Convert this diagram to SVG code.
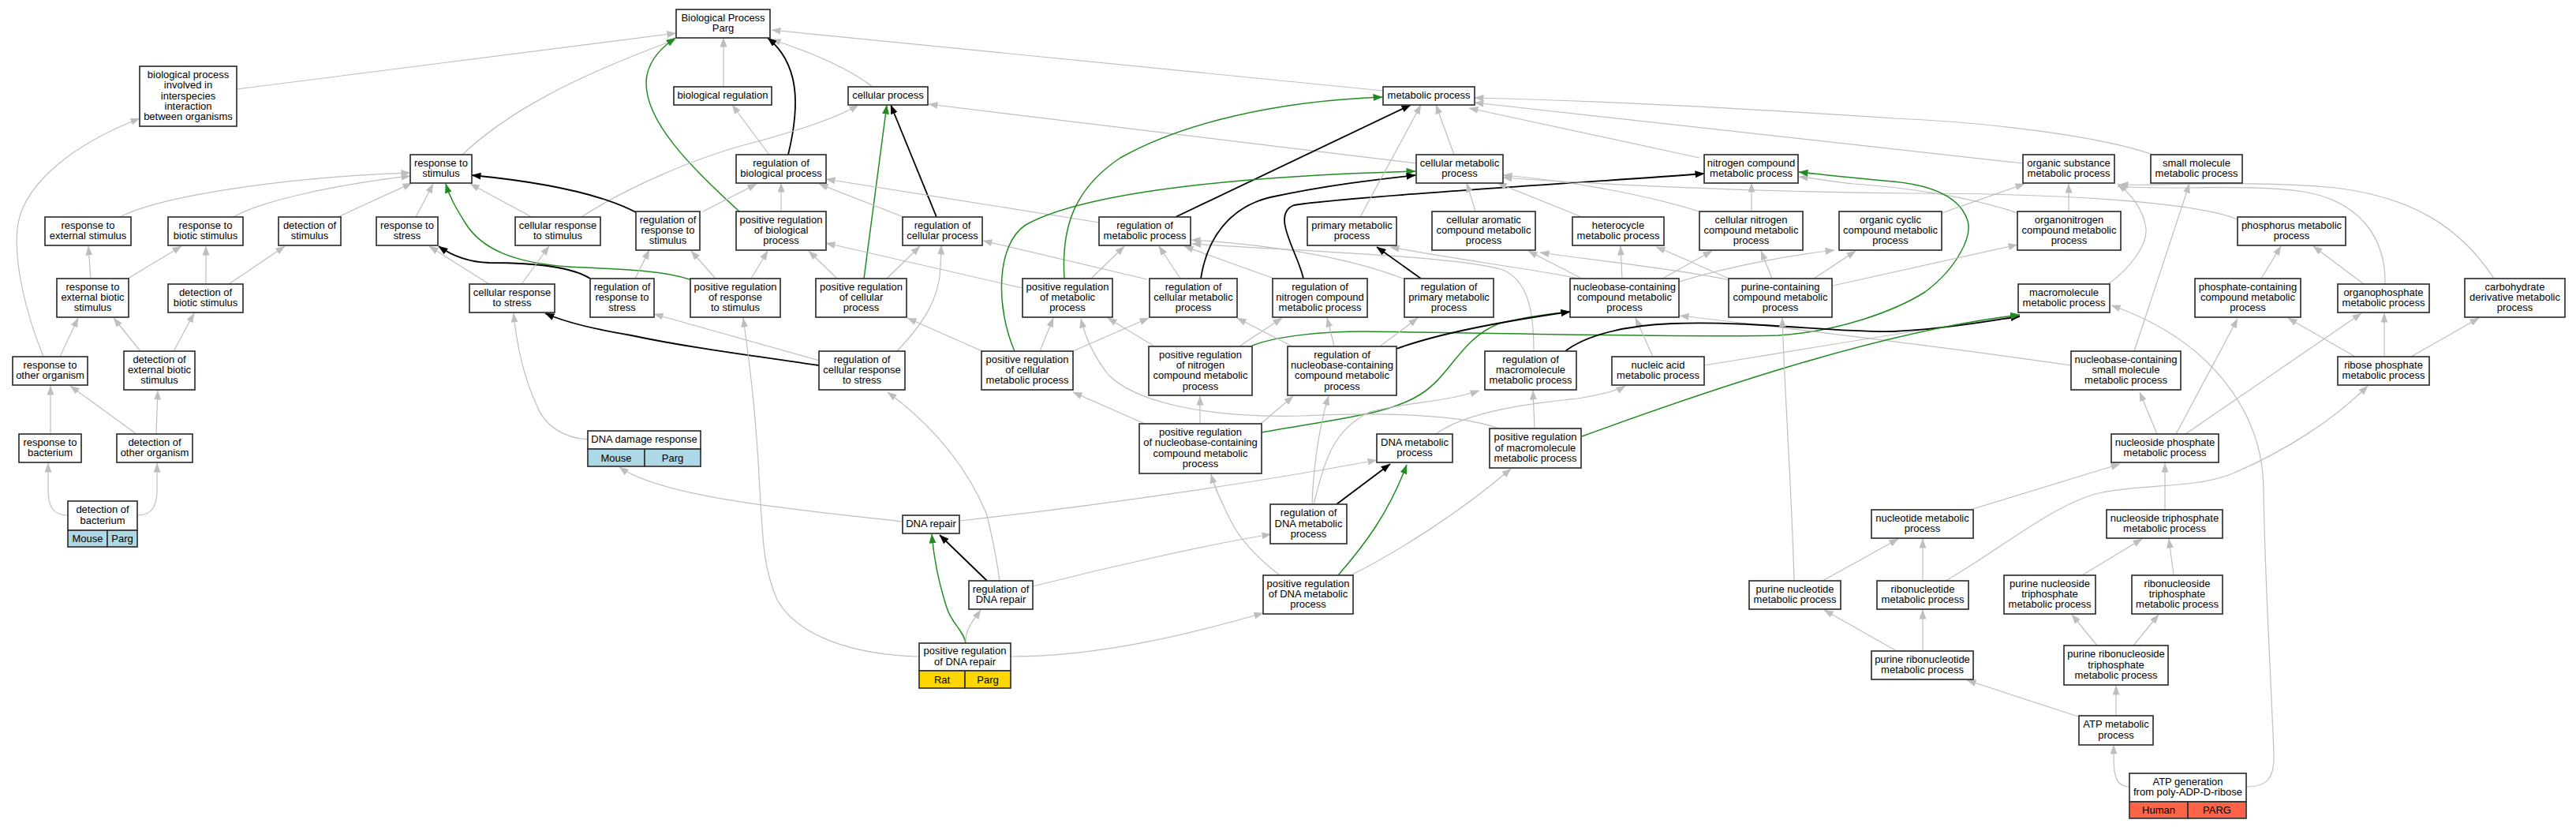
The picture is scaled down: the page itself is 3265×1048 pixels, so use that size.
<svg xmlns="http://www.w3.org/2000/svg" width="3265" height="1048" viewBox="0 0 3265 1048">
<style>
.node rect{fill:#fff;stroke:#333;stroke-width:1.7}
.node text{font-family:"Liberation Sans",Arial,sans-serif;font-size:13px;text-anchor:middle;fill:#000}
.g{fill:none;stroke:#bebebe;stroke-width:1.2;marker-end:url(#ag)}
.k{fill:none;stroke:#000;stroke-width:1.8;marker-end:url(#ak)}
.n{fill:none;stroke:#228b22;stroke-width:1.5;marker-end:url(#an)}
rect.blue{fill:#add8e6}
rect.gold{fill:#ffd700}
rect.tom{fill:#ff6347}
</style>
<defs>
<marker id="ag" viewBox="0 0 12 9" refX="11.5" refY="4.5" markerWidth="12" markerHeight="9" markerUnits="userSpaceOnUse" orient="auto"><path d="M0,0 L12,4.5 L0,9 z" fill="#bebebe"/></marker>
<marker id="ak" viewBox="0 0 12 9" refX="11.5" refY="4.5" markerWidth="12" markerHeight="9" markerUnits="userSpaceOnUse" orient="auto"><path d="M0,0 L12,4.5 L0,9 z" fill="#000"/></marker>
<marker id="an" viewBox="0 0 12 9" refX="11.5" refY="4.5" markerWidth="12" markerHeight="9" markerUnits="userSpaceOnUse" orient="auto"><path d="M0,0 L12,4.5 L0,9 z" fill="#228b22"/></marker>
</defs>
<rect x="0" y="0" width="3265" height="1048" fill="#fff"/>
<g id="edges">
<path class="g" d="M300,113 L857,42"/>
<path class="g" d="M586,196 C640,145 720,100 857,50"/>
<path class="g" d="M917,110 L917,48"/>
<path class="g" d="M1106,110 C1080,90 1040,70 978,50"/>
<path class="g" d="M1753,115 L978,38"/>
<path class="g" d="M975,196 L928,133"/>
<path class="k" d="M999,196 C1015,130 1012,80 973,48"/>
<path class="n" d="M937,268 C880,215 810,150 820,95 C825,72 842,58 856,48"/>
<path class="k" d="M1187,275 L1129,133"/>
<path class="n" d="M1095,353 L1124,133"/>
<path class="g" d="M737,275 C790,240 880,200 950,182 C1010,166 1060,150 1088,133"/>
<path class="g" d="M1795,207 L1177,132"/>
<path class="g" d="M891,268 L959,233"/>
<path class="g" d="M990,268 L990,232"/>
<path class="g" d="M1145,275 L1038,233"/>
<path class="g" d="M1393,282 L1047,227"/>
<path class="g" d="M152,275 C200,250 350,225 520,219"/>
<path class="g" d="M296,275 C330,255 420,235 520,223"/>
<path class="g" d="M428,275 L522,232"/>
<path class="g" d="M527,275 L549,233"/>
<path class="g" d="M674,275 L596,233"/>
<path class="k" d="M806,269 C760,245 680,230 598,222"/>
<path class="n" d="M874,354 C840,343 800,342 720,338 C650,333 610,315 590,283 C577,262 570,250 565,233"/>
<path class="k" d="M748,353 C720,335 660,333 620,333 C590,332 570,322 556,312"/>
<path class="g" d="M805,353 L823,317"/>
<path class="g" d="M620,360 L544,312"/>
<path class="g" d="M661,360 L696,312"/>
<path class="g" d="M115,353 L112,312"/>
<path class="g" d="M162,353 L230,312"/>
<path class="g" d="M261,360 L261,312"/>
<path class="g" d="M290,360 L361,312"/>
<path class="g" d="M76,452 L99,403"/>
<path class="g" d="M55,452 C30,390 18,330 22,290 C28,230 100,180 177,150"/>
<path class="g" d="M178,445 L144,403"/>
<path class="g" d="M220,445 L246,397"/>
<path class="g" d="M64,550 L64,489"/>
<path class="g" d="M173,550 L89,489"/>
<path class="g" d="M198,550 L200,495"/>
<path class="g" d="M86,653 C66,653 61,640 61,620 L61,587"/>
<path class="g" d="M174,653 C194,653 199,640 199,620 L199,587"/>
<path class="g" d="M745,557 C715,555 690,540 680,513 C665,480 655,440 651,397"/>
<path class="k" d="M1038,463 C950,450 870,440 800,425 C760,418 720,410 691,397"/>
<path class="g" d="M1039,457 L829,398"/>
<path class="g" d="M1137,445 C1170,410 1190,380 1192,340 L1193,311"/>
<path class="g" d="M907,353 L876,318"/>
<path class="g" d="M952,353 L973,318"/>
<path class="g" d="M1061,353 L1025,318"/>
<path class="g" d="M1124,353 L1166,312"/>
<path class="g" d="M1454,354 L1246,305"/>
<path class="k" d="M1490,275 L1788,133"/>
<path class="g" d="M1383,353 L1425,312"/>
<path class="g" d="M1496,353 L1469,312"/>
<path class="g" d="M1615,353 L1501,312"/>
<path class="g" d="M1781,354 Q1680,315 1510,304"/>
<path class="g" d="M1944,445 C1944,390 1935,355 1905,342 C1850,325 1650,318 1511,309"/>
<path class="n" d="M1349,353 C1345,290 1360,240 1420,200 C1500,155 1620,128 1752,123"/>
<path class="g" d="M1296,365 L1047,308"/>
<path class="n" d="M1286,445 C1262,390 1262,310 1300,285 C1380,240 1600,222 1794,217"/>
<path class="k" d="M1522,353 C1530,300 1560,262 1610,250 C1680,235 1740,228 1794,222"/>
<path class="k" d="M1652,353 C1645,320 1610,272 1640,260 C1700,250 2000,232 2160,220"/>
<path class="k" d="M1801,353 L1745,313"/>
<path class="g" d="M1843,196 L1820,133"/>
<path class="g" d="M1724,275 L1801,133"/>
<path class="g" d="M2154,200 L1862,137"/>
<path class="g" d="M2564,207 L1869,130"/>
<path class="g" d="M2729,196 C2660,172 2520,155 2400,150 C2250,140 2050,128 1869,124"/>
<path class="g" d="M1870,268 L1859,232"/>
<path class="g" d="M2005,275 L1898,232"/>
<path class="g" d="M2154,268 C2080,245 1980,228 1905,222"/>
<path class="g" d="M2836,278 C2780,255 2600,245 2420,245 C2200,243 2000,232 1905,225"/>
<path class="g" d="M2220,268 L2220,232"/>
<path class="g" d="M2557,270 C2500,250 2420,238 2350,233 C2320,230 2300,226 2280,224"/>
<path class="n" d="M1587,438 C1620,425 1680,420 1730,420 C1900,422 2150,428 2254,425 C2330,420 2400,395 2440,370 C2480,340 2500,300 2494,280 C2485,250 2450,235 2400,230 C2350,226 2300,220 2280,218"/>
<path class="g" d="M2461,270 L2566,233"/>
<path class="g" d="M2622,268 L2622,233"/>
<path class="g" d="M2672,360 C2700,340 2722,310 2720,290 C2717,265 2700,245 2684,233"/>
<path class="g" d="M3023,360 C3024,300 2990,255 2920,243 C2850,232 2750,242 2684,236"/>
<path class="g" d="M3161,353 C3120,290 3060,250 2960,238 C2850,228 2740,236 2686,234"/>
<path class="g" d="M2705,445 L2775,233"/>
<path class="g" d="M2866,353 L2891,312"/>
<path class="g" d="M2996,360 L2932,312"/>
<path class="g" d="M2005,353 L1937,318"/>
<path class="g" d="M2056,353 L2054,312"/>
<path class="g" d="M2107,353 L2170,318"/>
<path class="g" d="M2128,357 C2200,335 2280,322 2325,317"/>
<path class="g" d="M2005,354 C1960,343 1850,330 1762,313"/>
<path class="g" d="M2193,355 C2120,340 2020,330 1952,320"/>
<path class="g" d="M2192,353 C2160,340 2130,325 2099,313"/>
<path class="g" d="M2246,353 L2232,318"/>
<path class="g" d="M2299,353 L2352,318"/>
<path class="g" d="M2323,362 L2557,310"/>
<path class="g" d="M2095,452 L2073,403"/>
<path class="g" d="M2160,463 C2300,440 2450,415 2560,400"/>
<path class="g" d="M2625,463 C2500,445 2300,420 2129,400"/>
<path class="k" d="M1984,445 C2010,425 2060,412 2120,410 C2220,406 2330,422 2400,420 C2470,417 2530,405 2560,401"/>
<path class="n" d="M2005,553 C2150,500 2380,420 2560,399"/>
<path class="n" d="M1599,548 C1700,530 1760,525 1800,500 C1840,475 1850,430 1900,410 C1940,400 1970,397 1990,395"/>
<path class="k" d="M1770,442 C1830,420 1920,405 1990,395"/>
<path class="g" d="M1636,438 L1568,403"/>
<path class="g" d="M1572,438 L1625,403"/>
<path class="g" d="M1691,438 L1682,403"/>
<path class="g" d="M1750,438 L1797,403"/>
<path class="g" d="M1598,537 L1639,502"/>
<path class="g" d="M1663,639 C1665,580 1675,530 1684,502"/>
<path class="g" d="M1665,639 C1680,580 1690,545 1736,522 C1780,510 1830,510 1875,495"/>
<path class="g" d="M1945,543 L1943,495"/>
<path class="g" d="M1820,550 C1860,520 1950,510 2000,505 C2030,500 2050,495 2060,489"/>
<path class="g" d="M1216,660 C1400,640 1600,610 1745,583"/>
<path class="k" d="M1694,639 L1762,588"/>
<path class="n" d="M1696,729 C1730,690 1760,650 1783,589"/>
<path class="g" d="M1712,729 C1770,700 1850,650 1915,594"/>
<path class="g" d="M1900,543 C1850,525 1760,522 1650,527 C1530,530 1440,510 1405,475 C1385,450 1375,425 1370,404"/>
<path class="g" d="M1462,438 L1404,403"/>
<path class="g" d="M1318,445 L1335,403"/>
<path class="g" d="M1245,445 L1150,403"/>
<path class="g" d="M1360,445 L1456,403"/>
<path class="g" d="M1451,537 L1360,497"/>
<path class="g" d="M1521,537 L1521,502"/>
<path class="g" d="M1622,729 C1600,712 1575,690 1560,660 C1550,640 1540,620 1535,601"/>
<path class="g" d="M1309,743 C1400,720 1530,690 1611,677"/>
<path class="g" d="M1267,736 C1262,700 1258,680 1250,650 C1220,580 1170,530 1125,497"/>
<path class="k" d="M1251,736 L1191,678"/>
<path class="n" d="M1224,815 C1222,800 1206,790 1200,770 C1190,740 1184,710 1181,677"/>
<path class="g" d="M1224,813 C1224,795 1235,785 1243,773"/>
<path class="g" d="M1281,832 C1400,832 1520,800 1601,777"/>
<path class="g" d="M1165,832 C1080,830 1010,805 985,760 C968,720 967,690 963,620 C958,520 950,460 942,403"/>
<path class="g" d="M1144,661 C1000,645 840,630 785,592"/>
<path class="g" d="M2734,550 L2712,497"/>
<path class="g" d="M2758,550 L2836,404"/>
<path class="g" d="M2770,550 L2993,397"/>
<path class="g" d="M2985,452 L2900,403"/>
<path class="g" d="M3022,452 L3022,397"/>
<path class="g" d="M3056,452 L3142,403"/>
<path class="g" d="M2497,646 L2687,588"/>
<path class="g" d="M2744,646 L2744,587"/>
<path class="g" d="M2466,736 C2530,700 2600,640 2660,625 C2720,612 2780,620 2830,600 C2900,570 2960,530 3001,489"/>
<path class="g" d="M2310,736 L2406,683"/>
<path class="g" d="M2274,736 C2270,600 2262,500 2259,403"/>
<path class="g" d="M2437,736 L2437,683"/>
<path class="g" d="M2639,729 L2715,683"/>
<path class="g" d="M2755,729 L2749,683"/>
<path class="g" d="M2404,825 L2312,773"/>
<path class="g" d="M2437,825 L2437,773"/>
<path class="g" d="M2658,818 L2626,779"/>
<path class="g" d="M2704,818 L2736,779"/>
<path class="g" d="M2634,908 L2493,862"/>
<path class="g" d="M2682,907 L2682,869"/>
<path class="g" d="M2699,997 C2683,997 2679,985 2679,960 L2679,944"/>
<path class="g" d="M2847,997 C2875,997 2883,985 2882,955 C2878,850 2870,720 2869,620 C2868,520 2800,430 2676,387"/>
</g>
<g id="n-BP" class="node"><rect x="857" y="12" width="119" height="36"/><text x="916.5" y="26.9">Biological Process</text><text x="916.5" y="40.2">Parg</text></g>
<g id="n-BR" class="node"><rect x="854" y="110" width="124" height="23"/><text x="916" y="125">biological regulation</text></g>
<g id="n-CP" class="node"><rect x="1075" y="110" width="101" height="23"/><text x="1125.5" y="125">cellular process</text></g>
<g id="n-MP" class="node"><rect x="1753" y="110" width="116" height="23"/><text x="1811" y="125">metabolic process</text></g>
<g id="n-INT" class="node"><rect x="177" y="84" width="123" height="76"/><text x="238.5" y="98.9">biological process</text><text x="238.5" y="112.2">involved in</text><text x="238.5" y="125.5">interspecies</text><text x="238.5" y="138.8">interaction</text><text x="238.5" y="152.1">between organisms</text></g>
<g id="n-RS" class="node"><rect x="520" y="196" width="78" height="36"/><text x="559" y="210.9">response to</text><text x="559" y="224.2">stimulus</text></g>
<g id="n-RBP" class="node"><rect x="933" y="196" width="114" height="36"/><text x="990" y="210.9">regulation of</text><text x="990" y="224.2">biological process</text></g>
<g id="n-CMP" class="node"><rect x="1795" y="196" width="110" height="36"/><text x="1850" y="210.9">cellular metabolic</text><text x="1850" y="224.2">process</text></g>
<g id="n-NCMP" class="node"><rect x="2160" y="196" width="119" height="36"/><text x="2219.5" y="210.9">nitrogen compound</text><text x="2219.5" y="224.2">metabolic process</text></g>
<g id="n-OSMP" class="node"><rect x="2564" y="196" width="116" height="36"/><text x="2622" y="210.9">organic substance</text><text x="2622" y="224.2">metabolic process</text></g>
<g id="n-SMMP" class="node"><rect x="2726" y="196" width="116" height="36"/><text x="2784" y="210.9">small molecule</text><text x="2784" y="224.2">metabolic process</text></g>
<g id="n-RES" class="node"><rect x="57" y="275" width="109" height="36"/><text x="111.5" y="289.9">response to</text><text x="111.5" y="303.2">external stimulus</text></g>
<g id="n-RBS" class="node"><rect x="213" y="275" width="95" height="36"/><text x="260.5" y="289.9">response to</text><text x="260.5" y="303.2">biotic stimulus</text></g>
<g id="n-DS" class="node"><rect x="353" y="275" width="79" height="36"/><text x="392.5" y="289.9">detection of</text><text x="392.5" y="303.2">stimulus</text></g>
<g id="n-RSTR" class="node"><rect x="477" y="275" width="78" height="36"/><text x="516" y="289.9">response to</text><text x="516" y="303.2">stress</text></g>
<g id="n-CRS" class="node"><rect x="653" y="275" width="108" height="36"/><text x="707" y="289.9">cellular response</text><text x="707" y="303.2">to stimulus</text></g>
<g id="n-RRS" class="node"><rect x="806" y="268" width="81" height="49"/><text x="846.5" y="282.7">regulation of</text><text x="846.5" y="296">response to</text><text x="846.5" y="309.3">stimulus</text></g>
<g id="n-PRBP" class="node"><rect x="933" y="268" width="114" height="49"/><text x="990" y="282.7">positive regulation</text><text x="990" y="296">of biological</text><text x="990" y="309.3">process</text></g>
<g id="n-RCP" class="node"><rect x="1144" y="275" width="101" height="36"/><text x="1194.5" y="289.9">regulation of</text><text x="1194.5" y="303.2">cellular process</text></g>
<g id="n-RMP" class="node"><rect x="1393" y="275" width="116" height="36"/><text x="1451" y="289.9">regulation of</text><text x="1451" y="303.2">metabolic process</text></g>
<g id="n-PMP" class="node"><rect x="1657" y="275" width="113" height="36"/><text x="1713.5" y="289.9">primary metabolic</text><text x="1713.5" y="303.2">process</text></g>
<g id="n-CACMP" class="node"><rect x="1815" y="268" width="131" height="49"/><text x="1880.5" y="282.7">cellular aromatic</text><text x="1880.5" y="296">compound metabolic</text><text x="1880.5" y="309.3">process</text></g>
<g id="n-HMP" class="node"><rect x="1993" y="275" width="116" height="36"/><text x="2051" y="289.9">heterocycle</text><text x="2051" y="303.2">metabolic process</text></g>
<g id="n-CNCMP" class="node"><rect x="2154" y="268" width="131" height="49"/><text x="2219.5" y="282.7">cellular nitrogen</text><text x="2219.5" y="296">compound metabolic</text><text x="2219.5" y="309.3">process</text></g>
<g id="n-OCCMP" class="node"><rect x="2331" y="268" width="130" height="49"/><text x="2396" y="282.7">organic cyclic</text><text x="2396" y="296">compound metabolic</text><text x="2396" y="309.3">process</text></g>
<g id="n-ONCMP" class="node"><rect x="2557" y="268" width="131" height="49"/><text x="2622.5" y="282.7">organonitrogen</text><text x="2622.5" y="296">compound metabolic</text><text x="2622.5" y="309.3">process</text></g>
<g id="n-PHMP" class="node"><rect x="2836" y="275" width="137" height="36"/><text x="2904.5" y="289.9">phosphorus metabolic</text><text x="2904.5" y="303.2">process</text></g>
<g id="n-REBS" class="node"><rect x="72" y="353" width="91" height="49"/><text x="117.5" y="367.7">response to</text><text x="117.5" y="381">external biotic</text><text x="117.5" y="394.3">stimulus</text></g>
<g id="n-DBS" class="node"><rect x="213" y="360" width="95" height="36"/><text x="260.5" y="374.9">detection of</text><text x="260.5" y="388.2">biotic stimulus</text></g>
<g id="n-CRSTR" class="node"><rect x="595" y="360" width="108" height="36"/><text x="649" y="374.9">cellular response</text><text x="649" y="388.2">to stress</text></g>
<g id="n-RRSTR" class="node"><rect x="748" y="353" width="81" height="49"/><text x="788.5" y="367.7">regulation of</text><text x="788.5" y="381">response to</text><text x="788.5" y="394.3">stress</text></g>
<g id="n-PRRS" class="node"><rect x="875" y="353" width="114" height="49"/><text x="932" y="367.7">positive regulation</text><text x="932" y="381">of response</text><text x="932" y="394.3">to stimulus</text></g>
<g id="n-PRCP" class="node"><rect x="1034" y="353" width="115" height="49"/><text x="1091.5" y="367.7">positive regulation</text><text x="1091.5" y="381">of cellular</text><text x="1091.5" y="394.3">process</text></g>
<g id="n-PRMP" class="node"><rect x="1296" y="353" width="114" height="49"/><text x="1353" y="367.7">positive regulation</text><text x="1353" y="381">of metabolic</text><text x="1353" y="394.3">process</text></g>
<g id="n-RCMP" class="node"><rect x="1457" y="353" width="111" height="49"/><text x="1512.5" y="367.7">regulation of</text><text x="1512.5" y="381">cellular metabolic</text><text x="1512.5" y="394.3">process</text></g>
<g id="n-RNCMP" class="node"><rect x="1613" y="353" width="120" height="49"/><text x="1673" y="367.7">regulation of</text><text x="1673" y="381">nitrogen compound</text><text x="1673" y="394.3">metabolic process</text></g>
<g id="n-RPMP" class="node"><rect x="1780" y="353" width="113" height="49"/><text x="1836.5" y="367.7">regulation of</text><text x="1836.5" y="381">primary metabolic</text><text x="1836.5" y="394.3">process</text></g>
<g id="n-NBCMP" class="node"><rect x="1990" y="353" width="138" height="49"/><text x="2059" y="367.7">nucleobase-containing</text><text x="2059" y="381">compound metabolic</text><text x="2059" y="394.3">process</text></g>
<g id="n-PCCMP" class="node"><rect x="2191" y="353" width="131" height="49"/><text x="2256.5" y="367.7">purine-containing</text><text x="2256.5" y="381">compound metabolic</text><text x="2256.5" y="394.3">process</text></g>
<g id="n-MMP" class="node"><rect x="2558" y="360" width="116" height="36"/><text x="2616" y="374.9">macromolecule</text><text x="2616" y="388.2">metabolic process</text></g>
<g id="n-PHCMP" class="node"><rect x="2782" y="353" width="134" height="49"/><text x="2849" y="367.7">phosphate-containing</text><text x="2849" y="381">compound metabolic</text><text x="2849" y="394.3">process</text></g>
<g id="n-OPMP" class="node"><rect x="2963" y="360" width="116" height="36"/><text x="3021" y="374.9">organophosphate</text><text x="3021" y="388.2">metabolic process</text></g>
<g id="n-CDMP" class="node"><rect x="3124" y="353" width="127" height="49"/><text x="3187.5" y="367.7">carbohydrate</text><text x="3187.5" y="381">derivative metabolic</text><text x="3187.5" y="394.3">process</text></g>
<g id="n-ROO" class="node"><rect x="16" y="452" width="95" height="36"/><text x="63.5" y="466.9">response to</text><text x="63.5" y="480.2">other organism</text></g>
<g id="n-DEBS" class="node"><rect x="157" y="445" width="90" height="49"/><text x="202" y="459.7">detection of</text><text x="202" y="473">external biotic</text><text x="202" y="486.3">stimulus</text></g>
<g id="n-RCRS" class="node"><rect x="1038" y="445" width="109" height="49"/><text x="1092.5" y="459.7">regulation of</text><text x="1092.5" y="473">cellular response</text><text x="1092.5" y="486.3">to stress</text></g>
<g id="n-PRCMP" class="node"><rect x="1244" y="445" width="116" height="49"/><text x="1302" y="459.7">positive regulation</text><text x="1302" y="473">of cellular</text><text x="1302" y="486.3">metabolic process</text></g>
<g id="n-PRNCMP" class="node"><rect x="1456" y="439" width="131" height="62"/><text x="1521.5" y="453.6">positive regulation</text><text x="1521.5" y="466.9">of nitrogen</text><text x="1521.5" y="480.2">compound metabolic</text><text x="1521.5" y="493.5">process</text></g>
<g id="n-RNBCMP" class="node"><rect x="1632" y="439" width="138" height="62"/><text x="1701" y="453.6">regulation of</text><text x="1701" y="466.9">nucleobase-containing</text><text x="1701" y="480.2">compound metabolic</text><text x="1701" y="493.5">process</text></g>
<g id="n-RMMP" class="node"><rect x="1882" y="445" width="116" height="49"/><text x="1940" y="459.7">regulation of</text><text x="1940" y="473">macromolecule</text><text x="1940" y="486.3">metabolic process</text></g>
<g id="n-NAMP" class="node"><rect x="2043" y="452" width="117" height="36"/><text x="2101.5" y="466.9">nucleic acid</text><text x="2101.5" y="480.2">metabolic process</text></g>
<g id="n-NBSMMP" class="node"><rect x="2625" y="445" width="139" height="49"/><text x="2694.5" y="459.7">nucleobase-containing</text><text x="2694.5" y="473">small molecule</text><text x="2694.5" y="486.3">metabolic process</text></g>
<g id="n-RPHMP" class="node"><rect x="2963" y="452" width="116" height="36"/><text x="3021" y="466.9">ribose phosphate</text><text x="3021" y="480.2">metabolic process</text></g>
<g id="n-PRNBCMP" class="node"><rect x="1444" y="537" width="155" height="63"/><text x="1521.5" y="552.1">positive regulation</text><text x="1521.5" y="565.4">of nucleobase-containing</text><text x="1521.5" y="578.7">compound metabolic</text><text x="1521.5" y="592">process</text></g>
<g id="n-DDR" class="node"><rect x="745" y="546" width="143" height="23"/><rect class="blue" x="745" y="569" width="72" height="22"/><rect class="blue" x="817" y="569" width="71" height="22"/><text x="816.5" y="561">DNA damage response</text><text x="781" y="584.5">Mouse</text><text x="852.5" y="584.5">Parg</text></g>
<g id="n-RB" class="node"><rect x="24" y="550" width="79" height="36"/><text x="63.5" y="564.9">response to</text><text x="63.5" y="578.2">bacterium</text></g>
<g id="n-DOO" class="node"><rect x="148" y="550" width="96" height="36"/><text x="196" y="564.9">detection of</text><text x="196" y="578.2">other organism</text></g>
<g id="n-DMP" class="node"><rect x="1745" y="550" width="96" height="36"/><text x="1793" y="564.9">DNA metabolic</text><text x="1793" y="578.2">process</text></g>
<g id="n-PRMMP" class="node"><rect x="1888" y="543" width="116" height="50"/><text x="1946" y="558.2">positive regulation</text><text x="1946" y="571.5">of macromolecule</text><text x="1946" y="584.8">metabolic process</text></g>
<g id="n-NPMP" class="node"><rect x="2676" y="550" width="136" height="36"/><text x="2744" y="564.9">nucleoside phosphate</text><text x="2744" y="578.2">metabolic process</text></g>
<g id="n-DB" class="node"><rect x="86" y="635" width="88" height="37"/><rect class="blue" x="86" y="672" width="50" height="21"/><rect class="blue" x="136" y="672" width="38" height="21"/><text x="130" y="650.4">detection of</text><text x="130" y="663.7">bacterium</text><text x="111" y="687">Mouse</text><text x="155" y="687">Parg</text></g>
<g id="n-RDMP" class="node"><rect x="1610" y="639" width="97" height="50"/><text x="1658.5" y="654.2">regulation of</text><text x="1658.5" y="667.5">DNA metabolic</text><text x="1658.5" y="680.8">process</text></g>
<g id="n-NMP" class="node"><rect x="2372" y="646" width="129" height="36"/><text x="2436.5" y="660.9">nucleotide metabolic</text><text x="2436.5" y="674.2">process</text></g>
<g id="n-NTMP" class="node"><rect x="2670" y="646" width="147" height="36"/><text x="2743.5" y="660.9">nucleoside triphosphate</text><text x="2743.5" y="674.2">metabolic process</text></g>
<g id="n-DR" class="node"><rect x="1144" y="653" width="72" height="23"/><text x="1180" y="668">DNA repair</text></g>
<g id="n-RDR" class="node"><rect x="1228" y="736" width="81" height="36"/><text x="1268.5" y="750.9">regulation of</text><text x="1268.5" y="764.2">DNA repair</text></g>
<g id="n-PRDMP" class="node"><rect x="1601" y="729" width="114" height="49"/><text x="1658" y="743.7">positive regulation</text><text x="1658" y="757">of DNA metabolic</text><text x="1658" y="770.3">process</text></g>
<g id="n-PNMP" class="node"><rect x="2217" y="736" width="116" height="36"/><text x="2275" y="750.9">purine nucleotide</text><text x="2275" y="764.2">metabolic process</text></g>
<g id="n-RNMP" class="node"><rect x="2379" y="736" width="116" height="36"/><text x="2437" y="750.9">ribonucleotide</text><text x="2437" y="764.2">metabolic process</text></g>
<g id="n-PNTMP" class="node"><rect x="2540" y="729" width="116" height="49"/><text x="2598" y="743.7">purine nucleoside</text><text x="2598" y="757">triphosphate</text><text x="2598" y="770.3">metabolic process</text></g>
<g id="n-RNTMP" class="node"><rect x="2702" y="729" width="115" height="49"/><text x="2759.5" y="743.7">ribonucleoside</text><text x="2759.5" y="757">triphosphate</text><text x="2759.5" y="770.3">metabolic process</text></g>
<g id="n-PRDR" class="node"><rect x="1165" y="815" width="116" height="35"/><rect class="gold" x="1165" y="850" width="58" height="22"/><rect class="gold" x="1223" y="850" width="58" height="22"/><text x="1223" y="829.4">positive regulation</text><text x="1223" y="842.7">of DNA repair</text><text x="1194" y="865.5">Rat</text><text x="1252" y="865.5">Parg</text></g>
<g id="n-PRNMP" class="node"><rect x="2372" y="825" width="129" height="36"/><text x="2436.5" y="839.9">purine ribonucleotide</text><text x="2436.5" y="853.2">metabolic process</text></g>
<g id="n-PRNTMP" class="node"><rect x="2616" y="818" width="132" height="50"/><text x="2682" y="833.2">purine ribonucleoside</text><text x="2682" y="846.5">triphosphate</text><text x="2682" y="859.8">metabolic process</text></g>
<g id="n-ATPMP" class="node"><rect x="2635" y="907" width="94" height="37"/><text x="2682" y="922.4">ATP metabolic</text><text x="2682" y="935.7">process</text></g>
<g id="n-ATPG" class="node"><rect x="2699" y="980" width="148" height="36"/><rect class="tom" x="2699" y="1016" width="74" height="21"/><rect class="tom" x="2773" y="1016" width="74" height="21"/><text x="2773" y="994.9">ATP generation</text><text x="2773" y="1008.2">from poly-ADP-D-ribose</text><text x="2736" y="1031">Human</text><text x="2810" y="1031">PARG</text></g>
</svg>
